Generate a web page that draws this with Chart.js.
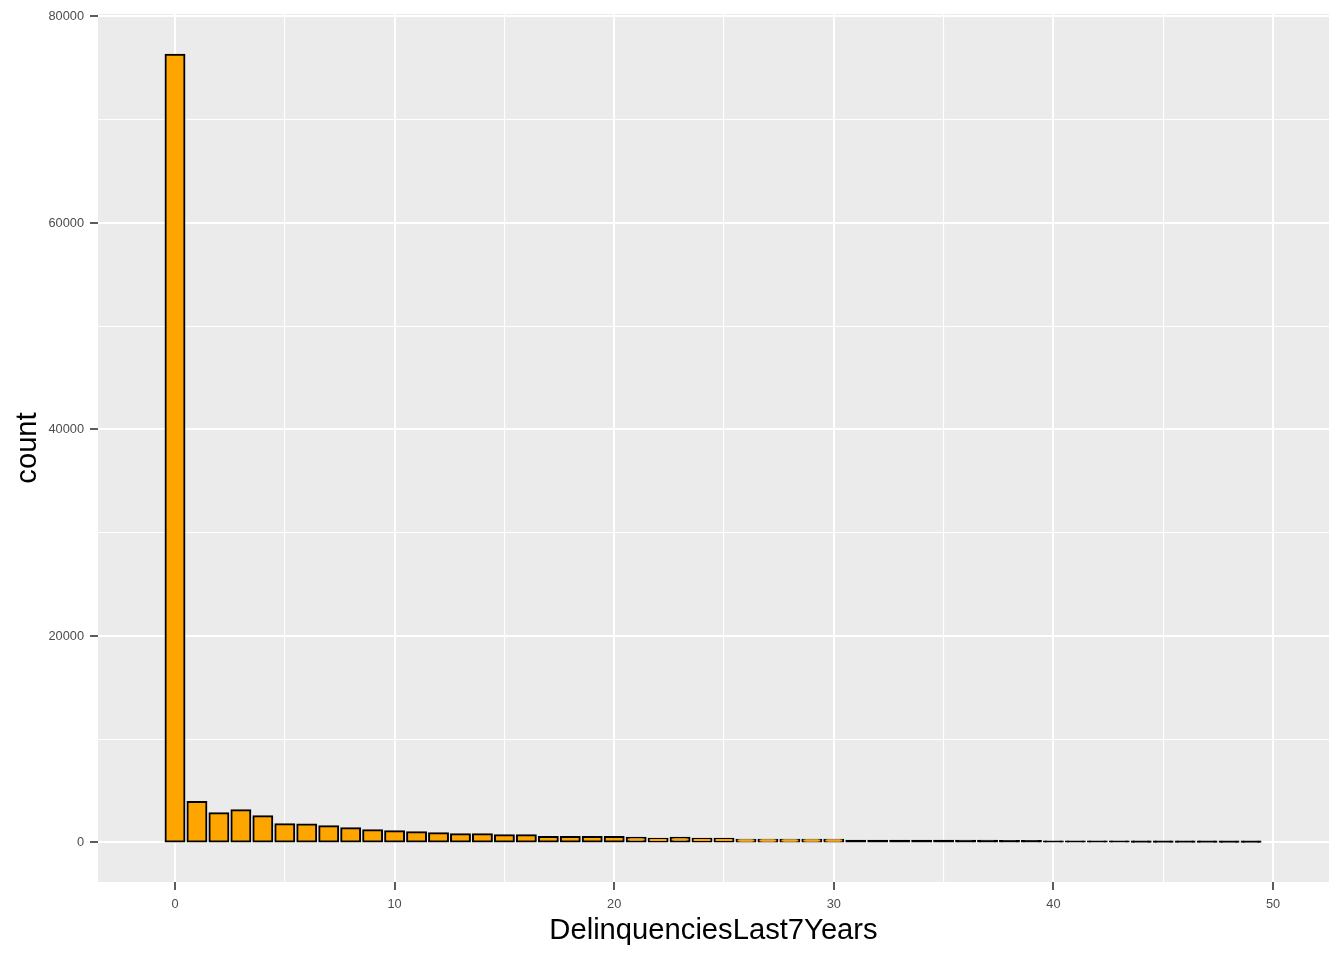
<!DOCTYPE html>
<html>
<head>
<meta charset="utf-8">
<script src="https://cdn.jsdelivr.net/npm/chart.js"></script>
<style>
  html, body { margin: 0; padding: 0; background: #ffffff; }
  #wrap { width: 1344px; height: 960px; }
</style>
</head>
<body>
<div id="wrap"><canvas id="c" width="1344" height="960"></canvas></div>
<script>
// ---- data ----
const binCenters = [0, 1, 2, 3, 4, 5, 6, 7, 8, 9,
                    10, 11, 12, 13, 14, 15, 16, 17, 18, 19,
                    20, 21, 22, 23, 24, 25, 26, 27, 28, 29,
                    30, 31, 32, 33, 34, 35, 36, 37, 38, 39,
                    40, 41, 42, 43, 44, 45, 46, 47, 48, 49];
const counts = [76300, 3920, 2830, 3120, 2540, 1760, 1750, 1570, 1375, 1180,
                1085, 990, 890, 795, 795, 700, 700, 530, 530, 530,
                530, 465, 370, 465, 370, 370, 270, 270, 270, 270,
                270, 180, 180, 170, 170, 170, 160, 160, 150, 150,
                90, 90, 85, 85, 80, 80, 75, 75, 70, 70];
const xGridTicks = [0, 5, 10, 15, 20, 25, 30, 35, 40, 45, 50];
const xMajorTicks = [0, 10, 20, 30, 40, 50];
const yGridTicks = [0, 10000, 20000, 30000, 40000, 50000, 60000, 70000, 80000];
const yMajorTicks = [0, 20000, 40000, 60000, 80000];
const xTitle = 'DelinquenciesLast7Years';
const yTitle = 'count';

const FILL = '#FFA500';
const FONT = '"Liberation Sans", Arial, sans-serif';

const panelBg = {
  id: 'panelBg',
  beforeDraw(chart) {
    const a = chart.chartArea, ctx = chart.ctx;
    ctx.save();
    ctx.fillStyle = '#EBEBEB';
    ctx.fillRect(a.left, a.top, a.right - a.left, a.bottom - a.top);
    ctx.restore();
  }
};

const isMajorX = v => xMajorTicks.includes(v);
const isMajorY = v => yMajorTicks.includes(v);

new Chart(document.getElementById('c'), {
  type: 'bar',
  data: {
    datasets: [{
      data: binCenters.map((x, i) => ({ x: x, y: counts[i] })),
      backgroundColor: (c) => {
        const ys = c.chart.scales && c.chart.scales.y;
        if (!ys || !c.parsed) return FILL;
        const h = ys.getPixelForValue(0) - ys.getPixelForValue(c.parsed.y);
        return h < 2.2 ? '#000000' : FILL;
      },
      borderColor: '#000000',
      borderWidth: 2,
      borderSkipped: false,
      inflateAmount: 1,
      barPercentage: 0.86,
      categoryPercentage: 1.0
    }]
  },
  options: {
    responsive: false,
    animation: false,
    devicePixelRatio: 1,
    layout: { padding: { left: 0, right: 15, top: 14, bottom: 0 } },
    plugins: { legend: { display: false }, tooltip: { enabled: false } },
    scales: {
      x: {
        type: 'linear',
        min: -3.506,
        max: 52.55,
        offset: false,
        border: { display: false },
        afterBuildTicks: s => { s.ticks = xGridTicks.map(v => ({ value: v })); },
        grid: {
          offset: false,
          color: '#FFFFFF',
          lineWidth: c => (c.tick && isMajorX(c.tick.value)) ? 2 : 1.1,
          drawTicks: true,
          tickLength: 8,
          tickWidth: 1.6,
          tickColor: c => (c.tick && isMajorX(c.tick.value)) ? '#333333' : 'rgba(0,0,0,0)'
        },
        ticks: {
          autoSkip: false,
          maxRotation: 0,
          padding: 7,
          color: '#4D4D4D',
          font: { family: FONT, size: 12.8 },
          callback: v => isMajorX(v) ? String(v) : ''
        },
        title: {
          display: true,
          text: xTitle,
          color: '#000000',
          font: { family: FONT, size: 29.2 },
          padding: { top: 10.6, bottom: 12 }
        },
        afterFit: s => { s.height = 78; }
      },
      y: {
        type: 'linear',
        min: -3826,
        max: 80242,
        border: { display: false },
        afterBuildTicks: s => { s.ticks = yGridTicks.map(v => ({ value: v })); },
        grid: {
          color: '#FFFFFF',
          lineWidth: c => (c.tick && isMajorY(c.tick.value)) ? 2 : 1.1,
          drawTicks: true,
          tickLength: 8,
          tickWidth: 1.6,
          tickColor: c => (c.tick && isMajorY(c.tick.value)) ? '#333333' : 'rgba(0,0,0,0)'
        },
        ticks: {
          autoSkip: false,
          padding: 6,
          color: '#4D4D4D',
          font: { family: FONT, size: 12.8 },
          callback: v => isMajorY(v) ? String(v) : ''
        },
        title: {
          display: true,
          text: yTitle,
          color: '#000000',
          font: { family: FONT, size: 29.2 },
          padding: { top: 10.6, bottom: 10.6 }
        },
        afterFit: s => { s.width = 98; }
      }
    }
  },
  plugins: [panelBg]
});
</script>
</body>
</html>
